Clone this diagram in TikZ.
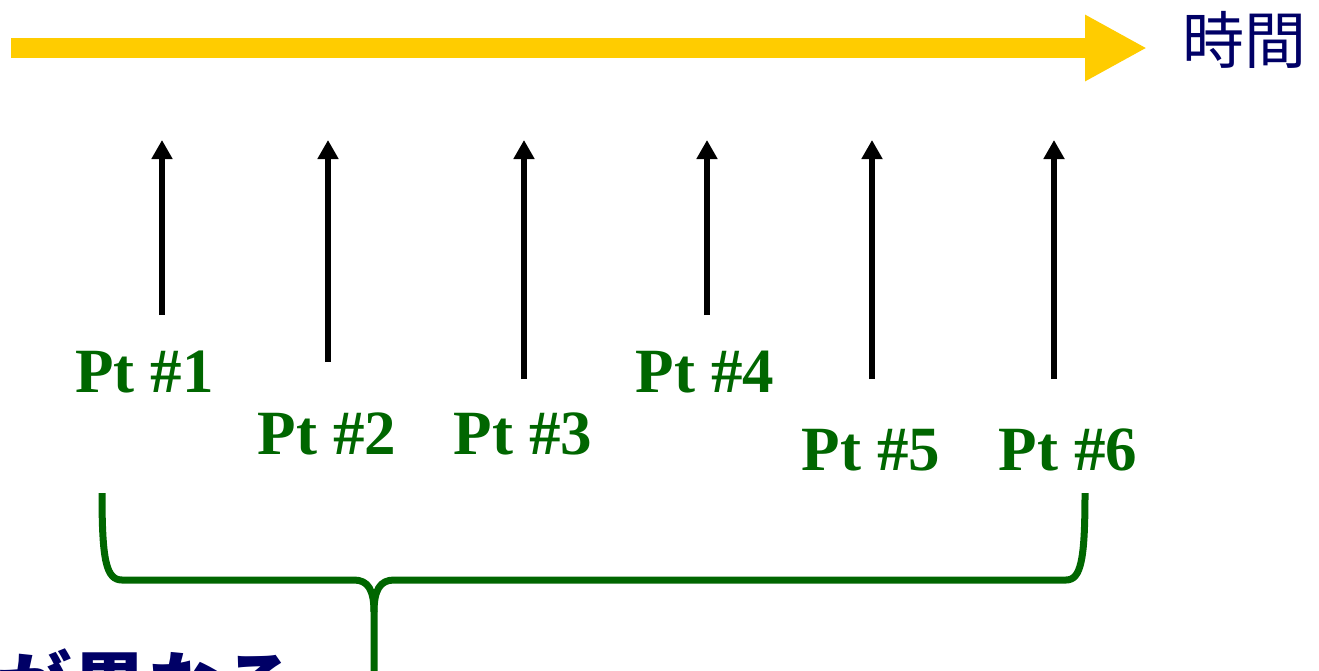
\documentclass[tikz,border=0pt]{standalone}
\usepackage{fontspec}
\setmainfont{Liberation Serif}
\newfontfamily\cjkfont{Noto Sans CJK JP}
\usetikzlibrary{arrows.meta}
\definecolor{timeyellow}{HTML}{FFCC00}
\definecolor{ptgreen}{HTML}{006600}
\definecolor{navytext}{HTML}{000066}
\tikzset{
  timearrow/.style={timeyellow, line width=20pt, -{Triangle[width=62pt,length=62pt]}},
  eventarrow/.style={black, line width=6pt, -{Triangle[width=20pt,length=19pt]}},
  ptlabel/.style={text=ptgreen, font=\fontsize{63}{63}\selectfont\bfseries, anchor=base, inner sep=0pt},
  bracestyle/.style={ptgreen, line width=7pt, line cap=butt, line join=round},
  cjklabel/.style={text=navytext, inner sep=0pt}
}
\begin{document}
\begin{tikzpicture}[x=1pt,y=-1pt]
\useasboundingbox (0,0) rectangle (1319,670);
\clip (0,0) rectangle (1319,670);
% time axis
\coordinate (ts) at (11,48);
\coordinate (te) at (1147,48);
\draw[timearrow] (ts) -- (te);
\node[cjklabel, font=\cjkfont\fontsize{62}{62}\selectfont, anchor=center] (time) at (1244,40) {時間};
% labels
\node[ptlabel] (p1) at (144.5,392) {Pt \#1};
\node[ptlabel] (p2) at (327,454) {Pt \#2};
\node[ptlabel] (p3) at (523,454) {Pt \#3};
\node[ptlabel] (p4) at (705,392) {Pt \#4};
\node[ptlabel] (p5) at (871,470) {Pt \#5};
\node[ptlabel] (p6) at (1068,470) {Pt \#6};
% event arrows
\coordinate (a1b) at (162,315); \coordinate (a1t) at (162,140);
\coordinate (a2b) at (328,362); \coordinate (a2t) at (328,140);
\coordinate (a3b) at (524,379); \coordinate (a3t) at (524,140);
\coordinate (a4b) at (707,315); \coordinate (a4t) at (707,140);
\coordinate (a5b) at (872,379); \coordinate (a5t) at (872,140);
\coordinate (a6b) at (1054,379); \coordinate (a6t) at (1054,140);
\foreach \i in {1,...,6} { \draw[eventarrow] (a\i b) -- (a\i t); }
% brace
\coordinate (bl) at (102,493);
\coordinate (br) at (1085,493);
\coordinate (bm) at (374,680);
\draw[bracestyle] (bl) .. controls (102,560) and (106,580) .. (122,580)
  -- (354,580) .. controls (368,580) and (374,590) .. (374,612) -- (bm);
\draw[bracestyle] (br) .. controls (1085,560) and (1081,580) .. (1066,580)
  -- (394,580) .. controls (380,580) and (374,590) .. (374,612);
% bottom caption (cut off)
\node[cjklabel, font=\cjkfont\bfseries\fontsize{75}{75}\selectfont, anchor=base west] (cap) at (-3,714) {が異なる};
\end{tikzpicture}
\end{document}
